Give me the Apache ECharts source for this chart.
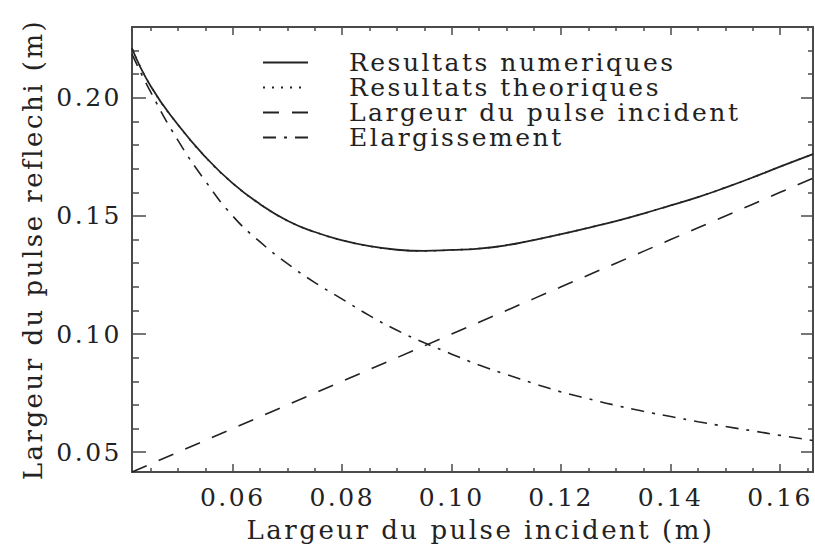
<!DOCTYPE html>
<html>
<head>
<meta charset="utf-8">
<script src="https://cdn.jsdelivr.net/npm/echarts@6.0.0/dist/echarts.min.js"></script>
<style>
  html, body { margin: 0; padding: 0; background: #fff; }
  #chart { width: 815px; height: 548px; }
  /* the original lettering is widely spaced */
  #chart text { letter-spacing: 2.5px; }
</style>
</head>
<body>
<div id="chart"></div>
<script>
// x : largeur du pulse incident (m)
const pulseIncident = [0.0416, 0.045, 0.05, 0.055, 0.06, 0.065, 0.07, 0.075, 0.08, 0.085, 0.09, 0.095, 0.10,
  0.105, 0.11, 0.115, 0.12, 0.125, 0.13, 0.135, 0.14, 0.145, 0.15, 0.155, 0.16, 0.166]
const resultatsNumeriques = [0.221, 0.205, 0.1886, 0.175, 0.1638, 0.155, 0.148, 0.1432, 0.1397, 0.1372, 0.1357,
  0.1352, 0.1356, 0.1362, 0.1376, 0.1398, 0.1423, 0.145, 0.1478, 0.151, 0.1545, 0.158, 0.162, 0.1663, 0.1709, 0.1762]
// the theoretical curve sits right on top of the numerical one
const resultatsTheoriques = [0.221, 0.205, 0.1886, 0.175, 0.1638, 0.155, 0.148, 0.1432, 0.1397, 0.1372, 0.1357,
  0.1352, 0.1356, 0.1362, 0.1376, 0.1398, 0.1423, 0.145, 0.1478, 0.151, 0.1545, 0.158, 0.162, 0.1663, 0.1709, 0.1762]
const largeurIncident = [0.0416, 0.045, 0.05, 0.055, 0.06, 0.065, 0.07, 0.075, 0.08, 0.085, 0.09, 0.095, 0.10,
  0.105, 0.11, 0.115, 0.12, 0.125, 0.13, 0.135, 0.14, 0.145, 0.15, 0.155, 0.16, 0.166]
const elargissement = [0.2185, 0.2025, 0.182, 0.1648, 0.150, 0.139, 0.1298, 0.1218, 0.1148, 0.1078, 0.1016, 0.0963,
  0.0915, 0.0869, 0.0829, 0.0791, 0.0755, 0.0726, 0.0698, 0.0673, 0.0651, 0.0629, 0.0609, 0.059, 0.0571, 0.0549]

const seriesNames = ['Resultats numeriques', 'Resultats theoriques', 'Largeur du pulse incident', 'Elargissement']

const xTicks = [0.06, 0.08, 0.10, 0.12, 0.14, 0.16]
const yTicks = [0.05, 0.10, 0.15, 0.20]
const xMinorTicks = [0.045, 0.05, 0.055, 0.065, 0.07, 0.075, 0.085, 0.09, 0.095, 0.105, 0.11, 0.115,
  0.125, 0.13, 0.135, 0.145, 0.15, 0.155, 0.165]
const yMinorTicks = [0.06, 0.07, 0.08, 0.09, 0.11, 0.12, 0.13, 0.14, 0.16, 0.17, 0.18, 0.19, 0.21, 0.22]

const xMin = 0.0416
const xMax = 0.166
const yMin = 0.0416
const yMax = 0.23

const font = 'DejaVu Serif'
const ink = '#222'
const frame = '#4a4a4a'

function pair(xs, ys) {
  return xs.map((x, i) => [x, ys[i]])
}

function axisPart(kind, position, ticks, len, showLine, label) {
  const axis = {
    type: 'value',
    position: position,
    min: kind === 'x' ? xMin : yMin,
    max: kind === 'x' ? xMax : yMax,
    axisLine: { show: showLine, onZero: false, lineStyle: { color: frame, width: 2 } },
    axisTick: { show: true, inside: true, length: len, customValues: ticks, lineStyle: { color: frame, width: 1.5 } },
    axisLabel: { show: false },
    splitLine: { show: false }
  }
  if (label) {
    axis.axisLabel = {
      show: true,
      customValues: ticks,
      margin: kind === 'x' ? 13 : 10,
      color: ink,
      fontFamily: font,
      fontSize: 25,
      formatter: v => v.toFixed(2)
    }
  }
  return axis
}

const chart = echarts.init(document.getElementById('chart'), null, { renderer: 'svg' })

const xBottom = axisPart('x', 'bottom', xTicks, 8, true, true)
xBottom.name = 'Largeur du pulse incident (m)'
xBottom.nameLocation = 'middle'
xBottom.nameGap = 45
xBottom.nameTextStyle = { color: ink, fontFamily: font, fontSize: 26, padding: [0, 0, 0, 16] }

const yLeft = axisPart('y', 'left', yTicks, 14, true, true)
yLeft.name = 'Largeur du pulse reflechi (m)'
yLeft.nameLocation = 'middle'
yLeft.nameRotate = 90
yLeft.nameGap = 86
yLeft.nameTextStyle = { color: ink, fontFamily: font, fontSize: 26 }

chart.setOption({
  backgroundColor: '#fff',
  animation: false,
  grid: { left: 132, right: 2, top: 27, bottom: 76 },
  legend: {
    data: seriesNames,
    orient: 'vertical',
    left: 262,
    top: 50,
    padding: 0,
    itemGap: 0,
    itemWidth: 45,
    itemHeight: 4,
    itemStyle: { opacity: 0 },
    textStyle: { color: ink, fontFamily: font, fontSize: 25, lineHeight: 23.5, padding: [0, 0, 0, 36] }
  },
  xAxis: [
    xBottom,
    axisPart('x', 'bottom', xMinorTicks, 4, false, false),
    axisPart('x', 'top', xTicks, 8, true, false),
    axisPart('x', 'top', xMinorTicks, 4, false, false)
  ],
  yAxis: [
    yLeft,
    axisPart('y', 'left', yMinorTicks, 7, false, false),
    axisPart('y', 'right', yTicks, 12, true, false),
    axisPart('y', 'right', yMinorTicks, 5, false, false)
  ],
  series: [
    {
      name: seriesNames[0],
      type: 'line',
      smooth: true,
      symbol: 'none',
      z: 3,
      data: pair(pulseIncident, resultatsNumeriques),
      lineStyle: { color: ink, width: 1.8, type: 'solid' }
    },
    {
      name: seriesNames[1],
      type: 'line',
      smooth: true,
      symbol: 'none',
      z: 2,
      data: pair(pulseIncident, resultatsTheoriques),
      lineStyle: { color: ink, width: 1.6, type: [2, 7] }
    },
    {
      name: seriesNames[2],
      type: 'line',
      symbol: 'none',
      data: pair(pulseIncident, largeurIncident),
      lineStyle: { color: ink, width: 1.6, type: [16, 13] }
    },
    {
      name: seriesNames[3],
      type: 'line',
      smooth: true,
      symbol: 'none',
      data: pair(pulseIncident, elargissement),
      lineStyle: { color: ink, width: 1.6, type: [13, 8, 3, 8] }
    }
  ]
})
</script>
</body>
</html>
